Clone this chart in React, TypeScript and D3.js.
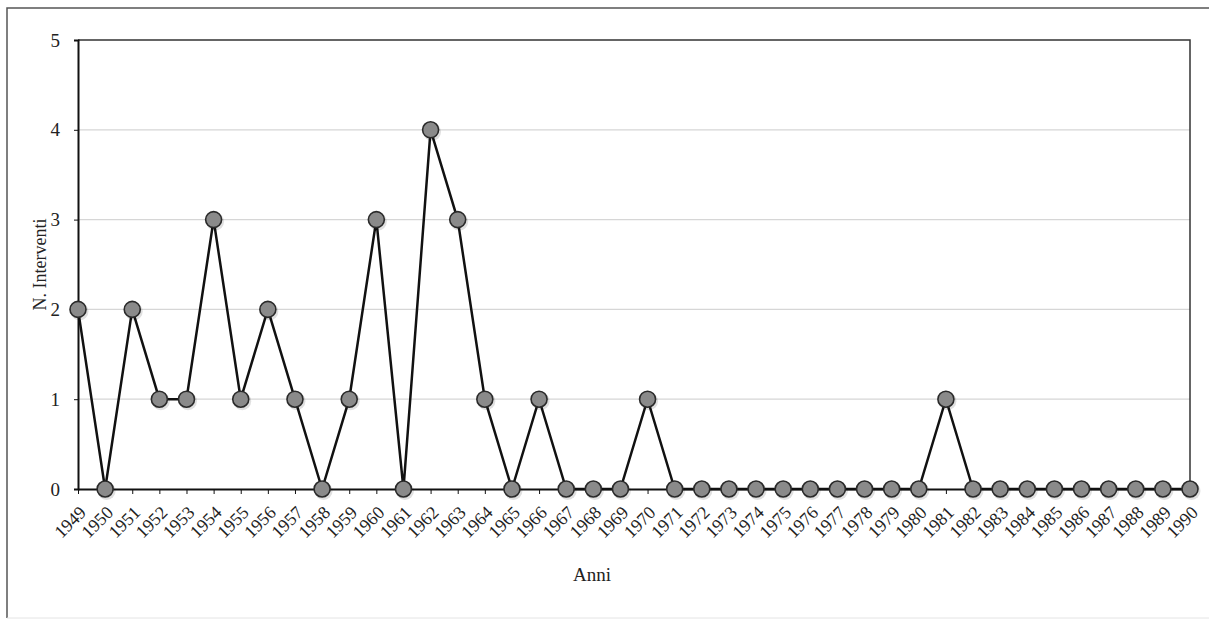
import React, { useEffect, useRef } from 'react';
import * as d3 from 'd3';

const years: number[] = [
  1949, 1950, 1951, 1952, 1953, 1954, 1955, 1956, 1957, 1958, 1959, 1960, 1961, 1962,
  1963, 1964, 1965, 1966, 1967, 1968, 1969, 1970, 1971, 1972, 1973, 1974, 1975, 1976,
  1977, 1978, 1979, 1980, 1981, 1982, 1983, 1984, 1985, 1986, 1987, 1988, 1989, 1990,
];
const interventi: number[] = [
  2, 0, 2, 1, 1, 3, 1, 2, 1, 0, 1, 3, 0, 4,
  3, 1, 0, 1, 0, 0, 0, 1, 0, 0, 0, 0, 0, 0,
  0, 0, 0, 0, 1, 0, 0, 0, 0, 0, 0, 0, 0, 0,
];
const yTicks: number[] = [0, 1, 2, 3, 4, 5];

const W = 1209;
const H = 621;
const FONT = '"Liberation Serif", "Times New Roman", serif';

const App: React.FC = () => {
  const svgRef = useRef<SVGSVGElement>(null);

  useEffect(() => {
    if (!svgRef.current) return;
    const svg = d3.select(svgRef.current);
    svg.selectAll('*').remove();

    const left = 78, right = 1190, top = 40, bottom = 489;

    const x = d3.scalePoint<string>()
      .domain(years.map(String))
      .range([left, right]);
    const y = d3.scaleLinear().domain([0, 5]).range([bottom, top]);

    // outer frame
    svg.append('path')
      .attr('d', `M7,${H - 3} V8 H${W}`)
      .attr('fill', 'none')
      .attr('stroke', '#555')
      .attr('stroke-width', 1.5);
    svg.append('line')
      .attr('x1', 7).attr('x2', W).attr('y1', H - 3).attr('y2', H - 3)
      .attr('stroke', '#e4e4e4');

    // gridlines
    svg.append('g')
      .selectAll('line')
      .data(yTicks.filter(t => t > 0 && t < 5))
      .enter().append('line')
      .attr('x1', left).attr('x2', right)
      .attr('y1', d => y(d)).attr('y2', d => y(d))
      .attr('stroke', '#d6d6d6')
      .attr('stroke-width', 1.2);

    // plot frame top and right
    svg.append('path')
      .attr('d', `M${left},${y(5)} H${right} V${bottom}`)
      .attr('fill', 'none')
      .attr('stroke', '#333')
      .attr('stroke-width', 1.5);

    // y axis
    const yAxis = svg.append('g')
      .attr('transform', `translate(${left},0)`)
      .call(d3.axisLeft(y).tickValues(yTicks).tickSize(4).tickPadding(14).tickFormat(d3.format('d')));
    yAxis.select('.domain').attr('stroke', '#111').attr('stroke-width', 2);
    yAxis.selectAll('line').attr('stroke', '#111');
    yAxis.selectAll('text')
      .attr('font-family', FONT)
      .attr('font-size', 19)
      .attr('fill', '#222');

    // x axis
    const xAxis = svg.append('g')
      .attr('transform', `translate(0,${bottom})`)
      .call(d3.axisBottom(x).tickSize(5).tickSizeOuter(0));
    xAxis.select('.domain').attr('stroke', '#111').attr('stroke-width', 2);
    xAxis.selectAll('line').attr('stroke', '#111');
    xAxis.selectAll('text')
      .attr('font-family', FONT)
      .attr('font-size', 18)
      .attr('fill', '#222')
      .attr('text-anchor', 'end')
      .attr('dy', 0)
      .attr('transform', 'translate(3,19) rotate(-45)');

    // line
    const line = d3.line<number>()
      .x((_, i) => x(String(years[i]))!)
      .y(d => y(d));
    svg.append('path')
      .datum(interventi)
      .attr('d', line)
      .attr('fill', 'none')
      .attr('stroke', '#111')
      .attr('stroke-width', 2.5)
      .attr('stroke-linejoin', 'miter');

    // marker shadows
    svg.append('g')
      .selectAll('circle')
      .data(interventi)
      .enter().append('circle')
      .attr('cx', (_, i) => x(String(years[i]))! + 1.5)
      .attr('cy', d => y(d) + 2)
      .attr('r', 9)
      .attr('fill', '#000')
      .attr('opacity', 0.12);

    // markers
    svg.append('g')
      .selectAll('circle')
      .data(interventi)
      .enter().append('circle')
      .attr('cx', (_, i) => x(String(years[i]))!)
      .attr('cy', d => y(d))
      .attr('r', 8)
      .attr('fill', '#8a8a8a')
      .attr('stroke', '#2a2a2a')
      .attr('stroke-width', 1.6);

    // titles
    svg.append('text')
      .attr('x', 592)
      .attr('y', 581)
      .attr('text-anchor', 'middle')
      .attr('font-family', FONT)
      .attr('font-size', 19)
      .attr('fill', '#222')
      .text('Anni');

    svg.append('text')
      .attr('transform', `translate(46,${(top + bottom) / 2}) rotate(-90)`)
      .attr('text-anchor', 'middle')
      .attr('font-family', FONT)
      .attr('font-size', 18)
      .attr('fill', '#222')
      .text('N. Interventi');
  }, []);

  return (
    <div style={{ position: 'absolute', left: 0, top: 0, width: W, height: H, background: '#fff' }}>
      <svg ref={svgRef} width={W} height={H}></svg>
    </div>
  );
};

export default App;
